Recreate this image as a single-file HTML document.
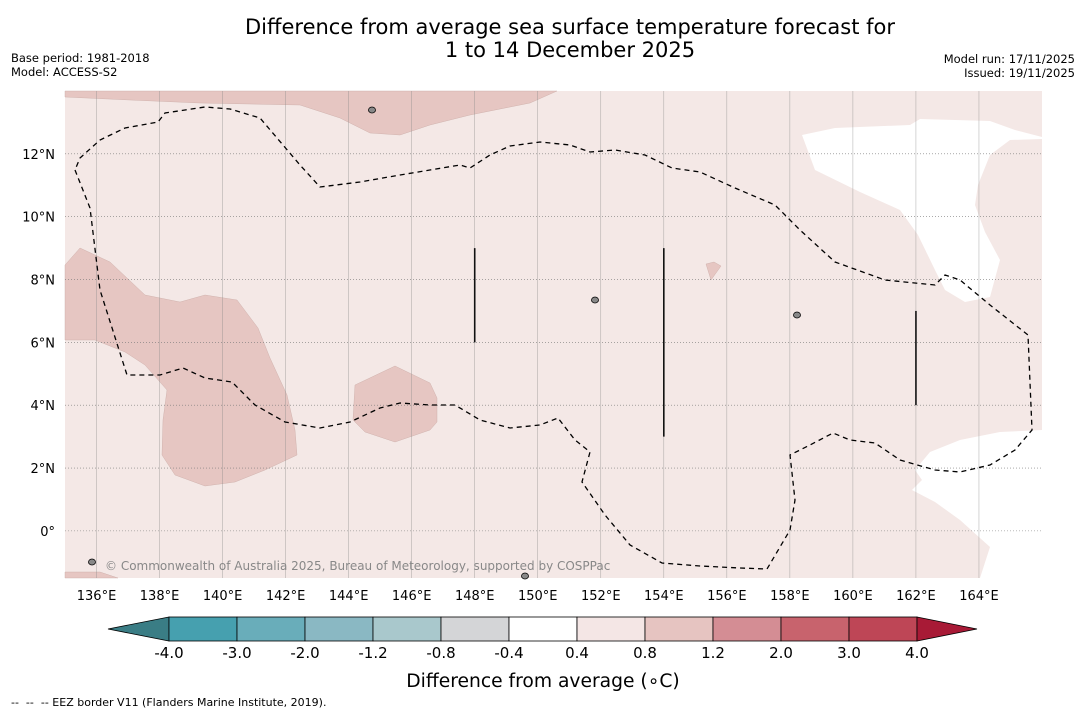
<!DOCTYPE html>
<html><head><meta charset="utf-8">
<style>
body{margin:0;background:#fff;font-family:"Liberation Sans","DejaVu Sans",sans-serif;}
svg text{font-family:"DejaVu Sans","Liberation Sans",sans-serif;}
</style></head>
<body>
<svg id="chart" width="1085" height="713" viewBox="0 0 1085 713" xmlns="http://www.w3.org/2000/svg">
<rect width="1085" height="713" fill="#fff"/>
<text x="570" y="34" font-size="21" text-anchor="middle">Difference from average sea surface temperature forecast for</text>
<text x="570" y="57" font-size="21" text-anchor="middle">1 to 14 December 2025</text>
<text x="11" y="62" font-size="11.5">Base period: 1981-2018</text>
<text x="11" y="76" font-size="11.5">Model: ACCESS-S2</text>
<text x="1075" y="63" font-size="11.5" text-anchor="end">Model run: 17/11/2025</text>
<text x="1075" y="77" font-size="11.5" text-anchor="end">Issued: 19/11/2025</text>
<g id="map"></g>
<g id="cbar"></g>
<text x="543" y="687" font-size="18.7" text-anchor="middle">Difference from average (∘C)</text>
<text x="11" y="706" font-size="11" xml:space="preserve">--  --  -- EEZ border V11 (Flanders Marine Institute, 2019).</text>
</svg>
<script>
const lonTicks=[136,138,140,142,144,146,148,150,152,154,156,158,160,162,164];
const latTicks=[0,2,4,6,8,10,12];
const cbarLabels=["-4.0","-3.0","-2.0","-1.2","-0.8","-0.4","0.4","0.8","1.2","2.0","3.0","4.0"];
const cbarColors=["#46a0af","#69adba","#8ab8c3","#a9c8cc","#d4d5d7","#ffffff","#f4e6e5","#e6c4c1","#d48d94","#c8636d","#be4656"];
const lowColor="#3a7d85", highColor="#a81a36";
const NS="http://www.w3.org/2000/svg";
const X0=65,X1=1042,Y0=91,Y1=578;
const lon0=135,lon1=166,lat0=-1.5,lat1=14;
function px(lon){return X0+(lon-lon0)/(lon1-lon0)*(X1-X0);}
function py(lat){return Y1-(lat-lat0)/(lat1-lat0)*(Y1-Y0);}
function mk(tag,attrs,parent){const e=document.createElementNS(NS,tag);for(const k in attrs)e.setAttribute(k,attrs[k]);parent.appendChild(e);return e;}
const map=document.getElementById('map');
let r=mk('rect',{x:X0,y:Y0,width:X1-X0,height:Y1-Y0,fill:'#f4e8e6'},map);


function poly(pts,fill,name){const p=mk('polygon',{points:pts.map(a=>a.join(',')).join(' '),fill:fill,stroke:fill==='#fff'?'none':'#c9a9a5','stroke-width':0.4},map);

}
poly([[65,91],[557,91],[530,103],[470,115],[430,125],[400,135],[370,133],[340,118],[300,105],[200,103],[130,100],[65,97]],'#e6c6c2','warm-region-north');
poly([[65,265],[80,248],[110,262],[145,295],[180,302],[205,295],[237,300],[258,328],[270,358],[287,395],[295,430],[297,455],[265,470],[235,482],[205,486],[175,475],[162,455],[163,420],[167,390],[145,365],[125,352],[95,340],[65,340]],'#e6c6c2','warm-region-west');
poly([[355,385],[395,366],[430,383],[437,398],[437,422],[430,430],[395,442],[365,432],[353,420]],'#e6c6c2','warm-region-central');
poly([[706,264],[714,262],[721,266],[711,280]],'#e6c6c2','warm-region-small');
poly([[65,572],[100,572],[118,578],[65,578]],'#e6c6c2','warm-region-sw');
poly([[802,135],[835,128],[910,125],[920,119],[990,121],[1015,130],[1042,137],[1042,139],[1010,140],[990,155],[978,185],[975,205],[985,232],[1000,260],[990,297],[965,302],[945,290],[935,270],[918,235],[900,210],[860,192],[815,170]],'#fff','neutral-region-ne');
poly([[1042,430],[1000,432],[960,440],[930,452],[915,470],[922,480],[912,490],[935,502],[960,520],[990,547],[980,578],[1042,578]],'#fff','neutral-region-se');
lonTicks.forEach(l=>{const x=px(l);
let g=mk('line',{x1:x,x2:x,y1:Y0,y2:Y1,stroke:'#888','stroke-width':0.5,'stroke-opacity':0.7},map);


let t=mk('text',{x:x,y:600,'font-size':13,'text-anchor':'middle'},map);t.textContent=l+'°E';

});
latTicks.forEach(l=>{const y=py(l);
let g=mk('line',{x1:X0,x2:X1,y1:y,y2:y,stroke:'#777','stroke-width':0.6,'stroke-dasharray':'1,2'},map);


let t=mk('text',{x:55,y:y+5,'font-size':13,'text-anchor':'end'},map);t.textContent=l===0?'0°':l+'°N';

});
const eez=[[75,170],[90,208],[100,290],[127,375],[160,375],[183,368],[205,378],[232,382],[255,405],[285,422],[320,428],[350,422],[380,408],[400,403],[430,405],[455,405],[480,420],[510,428],[540,425],[558,418],[575,440],[590,452],[582,482],[605,515],[630,545],[662,563],[700,566],[740,568],[767,569],[790,530],[795,500],[790,455],[810,445],[833,433],[850,440],[875,443],[900,460],[935,470],[960,472],[990,465],[1015,450],[1032,430],[1028,335],[990,305],[960,280],[945,275],[935,285],[885,280],[835,262],[800,230],[775,205],[735,188],[700,172],[672,168],[645,155],[615,150],[590,152],[570,145],[540,142],[510,146],[490,155],[470,168],[460,165],[400,175],[360,182],[320,187],[300,165],[260,118],[230,109],[205,107],[165,113],[158,122],[125,128],[100,140],[80,158],[75,170]];
let e=mk('polyline',{points:eez.map(a=>a.join(',')).join(' '),fill:'none',stroke:'#000','stroke-width':1.3,'stroke-dasharray':'5,4'},map);


[[148,9,6],[154,9,3],[162,7,4]].forEach(v=>{let l=mk('line',{x1:px(v[0]),x2:px(v[0]),y1:py(v[1]),y2:py(v[2]),stroke:'#111','stroke-width':1.6},map);

});
[[372,110],[797,315],[595,300],[92,562],[525,576]].forEach(p=>{let c=mk('ellipse',{cx:p[0],cy:p[1],rx:3.5,ry:3,fill:'#888',stroke:'#000','stroke-width':0.8},map);

});
let ct=mk('text',{x:105,y:570,'font-size':12,fill:'#888'},map);ct.textContent='© Commonwealth of Australia 2025, Bureau of Meteorology, supported by COSPPac';


const cb=document.getElementById('cbar');
const cx0=169,cw=68,cy=617,ch=24;
let lt=mk('polygon',{points:`${cx0},${cy} 108,${cy+ch/2} ${cx0},${cy+ch}`,fill:lowColor,stroke:'#000','stroke-width':0.8},cb);


cbarColors.forEach((c,i)=>{let s=mk('rect',{x:cx0+i*cw,y:cy,width:cw,height:ch,fill:c,stroke:'#000','stroke-width':0.8},cb);

});
const xe=cx0+cbarColors.length*cw;
let rt=mk('polygon',{points:`${xe},${cy} 977,${cy+ch/2} ${xe},${cy+ch}`,fill:highColor,stroke:'#000','stroke-width':0.8},cb);


cbarLabels.forEach((l,i)=>{let t=mk('text',{x:cx0+i*cw,y:658,'font-size':15,'text-anchor':'middle'},cb);t.textContent=l;

});
</script>
</body></html>
